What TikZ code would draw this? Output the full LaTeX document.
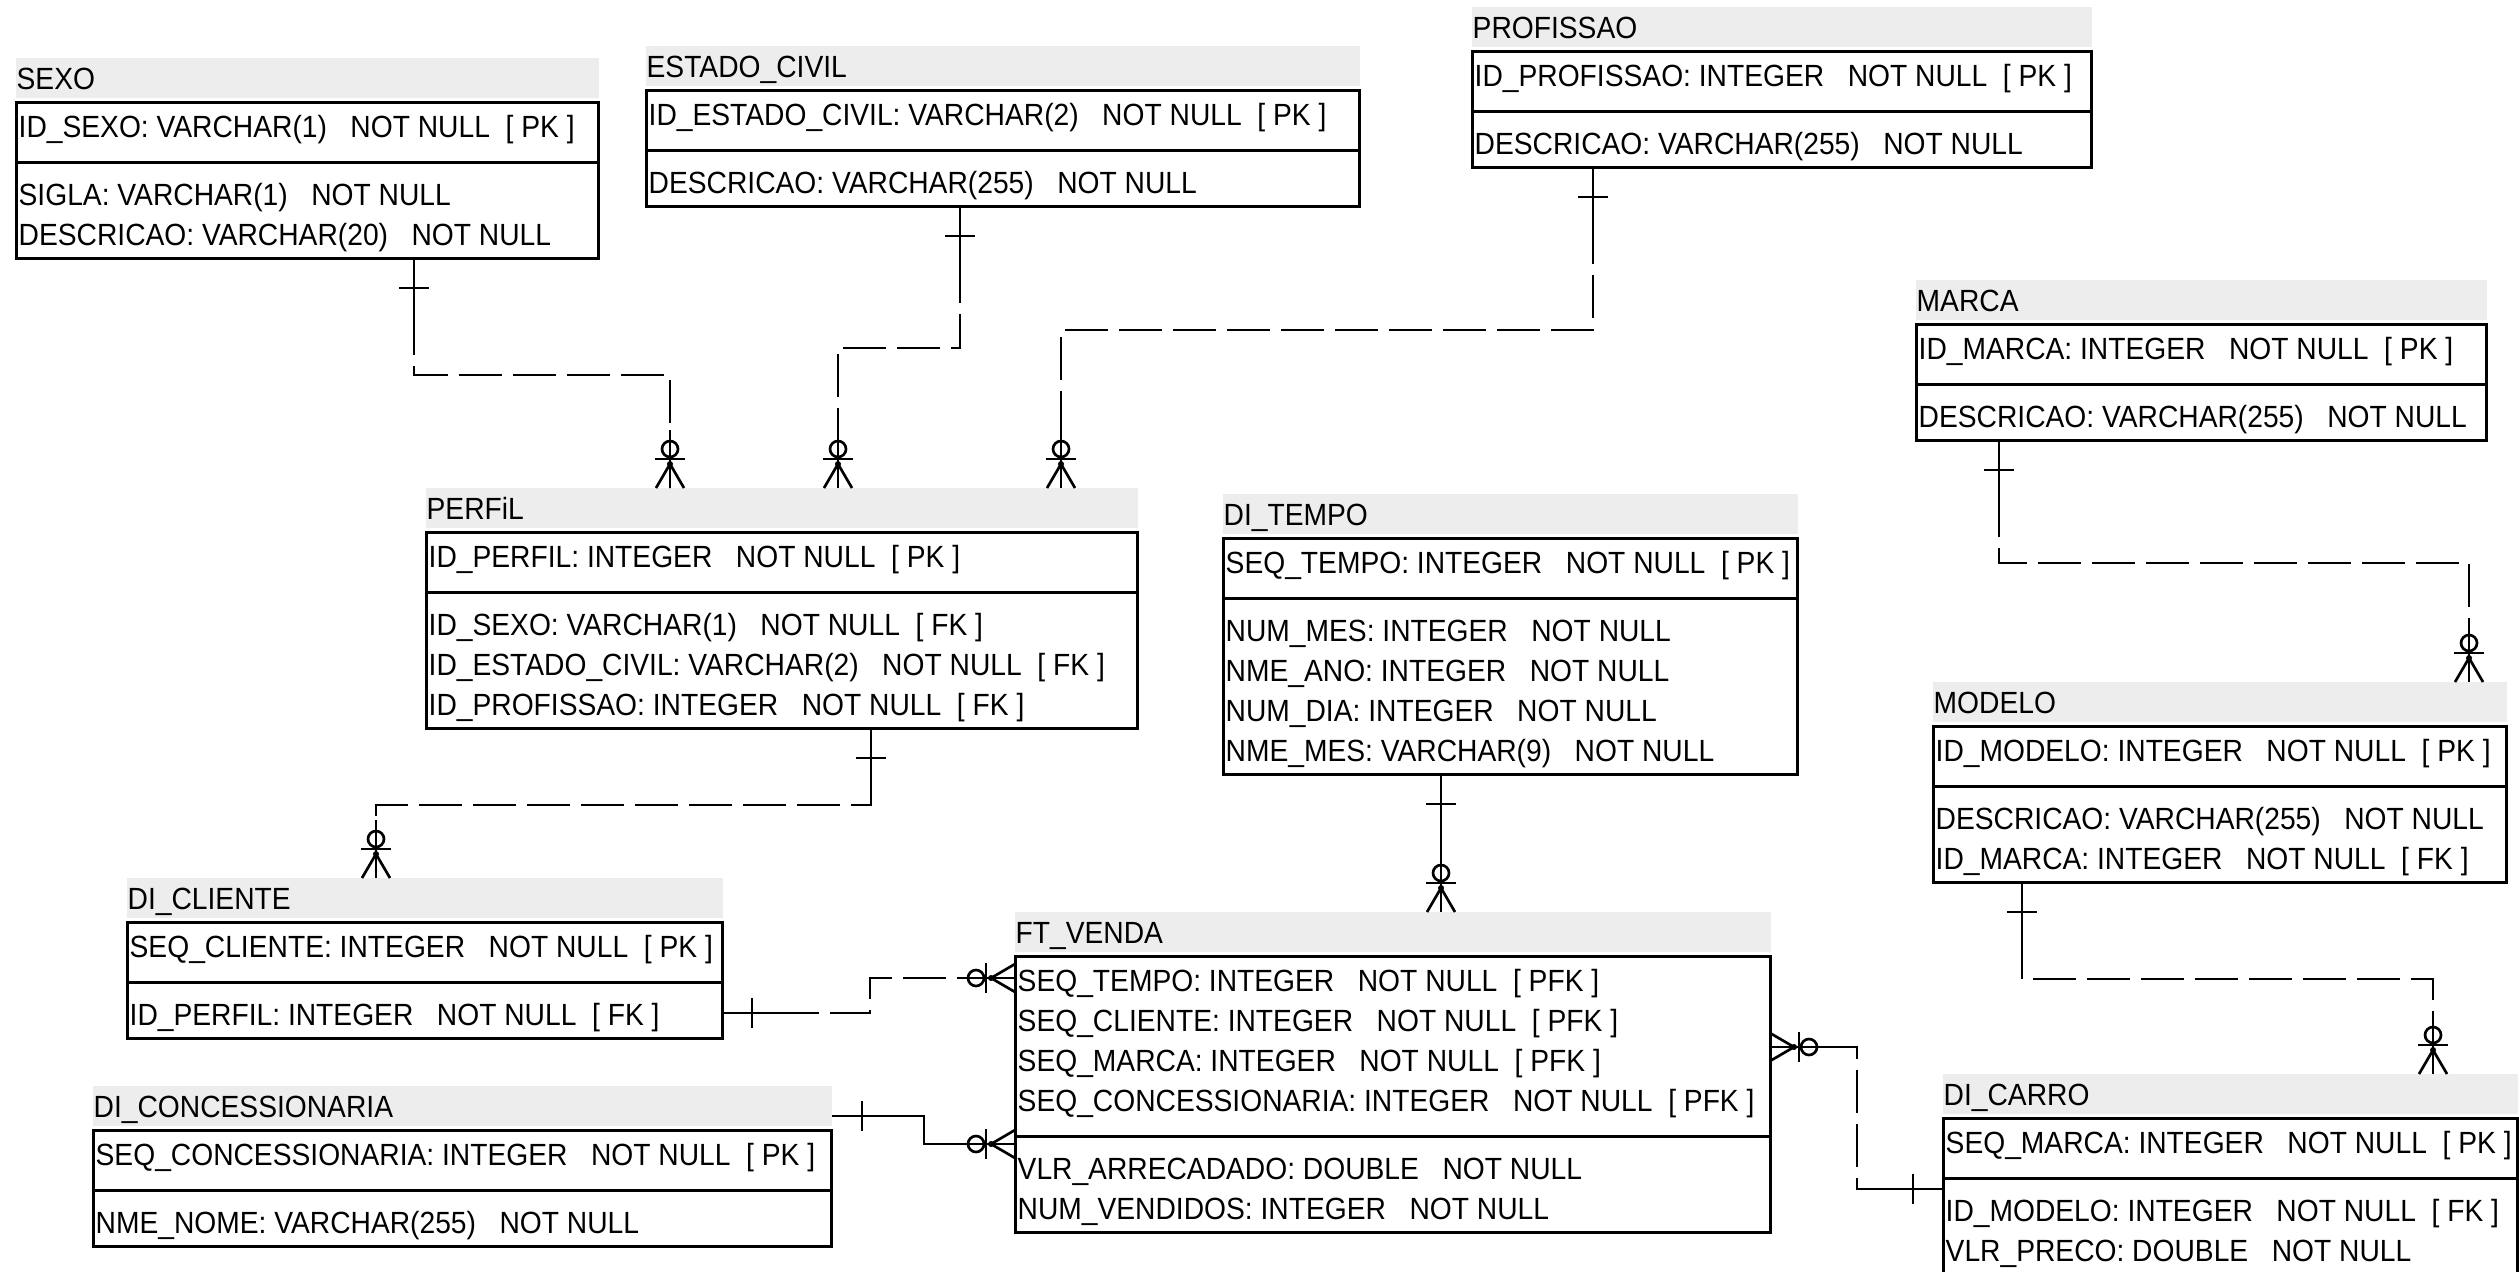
\documentclass[tikz,border=0pt]{standalone}
\usepackage{fontspec}
\setmainfont[FakeStretch=0.92]{Liberation Sans}
\usepackage{xcolor}
\usetikzlibrary{calc}

\definecolor{hdrgray}{HTML}{EDEDED}
\newcommand{\notnull}{~~~NOT NULL}
\newcommand{\pkey}{~~[ PK ]}
\newcommand{\fkey}{~~[ FK ]}
\newcommand{\pfkey}{~~[ PFK ]}
\newcommand{\pxu}{0.3pt}

\newcommand{\ertable}[9]{%
  \node[hdr, minimum width={(#4+1)*\pxu}] (#1-h) at ({#2},{#3}) {};
  \node[fld] at ({#2},{#3+31}) {#5};
  \node[tbl, minimum width={#4*\pxu}, minimum height={(40*(#6+#7)+36)*\pxu}] (#1) at ({#2},{#3+44}) {};
  \draw[box] ({#2},{#3+64+40*#6}) -- ++(#4,0);
  \foreach \ftxt [count=\idx from 0] in {#8}
    \node[fld] at ({#2+2},{#3+79+40*\idx}) {\ftxt};
  \foreach \ftxt [count=\idx from 0] in {#9}
    \node[fld] at ({#2+2},{#3+107+40*#6+40*\idx}) {\ftxt};
}

\begin{document}
\begin{tikzpicture}[x=0.3pt, y=-0.3pt, font=\fontsize{9.2}{11}\selectfont,
    hdr/.style={fill=hdrgray, anchor=north west, inner sep=0pt, outer sep=0pt, minimum height=12pt},
    tbl/.style={draw, line width=0.9pt, anchor=north west, inner sep=0pt, outer sep=0pt},
    box/.style={line width=0.9pt},
    fld/.style={anchor=base west, inner sep=0pt},
    con/.style={line width=0.8pt},
    rel/.style={con, dash pattern=on 12.9pt off 3.3pt},
    barend/.pic={\draw[con] (-30,-15) -- (-30,15);},
    crowend/.pic={
        \draw[con] (0,-14) -- (-24,0) -- (0,14);
        \fill (-24,0) circle (3);
        \draw[con] (-29,-15) -- (-29,15);
        \draw[con] (-39,0) circle (8);}]
    \useasboundingbox (0,0) rectangle (2519,1271);
    \clip (0,0) rectangle (2519,1271);

    \ertable{sexo}{16}{58}{582}{SEXO}{1}{2}{ID\_SEXO: VARCHAR(1)\notnull\pkey}{SIGLA: VARCHAR(1)\notnull, DESCRICAO: VARCHAR(20)\notnull}
    \ertable{estado}{646}{46}{713}{ESTADO\_CIVIL}{1}{1}{ID\_ESTADO\_CIVIL: VARCHAR(2)\notnull\pkey}{DESCRICAO: VARCHAR(255)\notnull}
    \ertable{profissao}{1472}{7}{619}{PROFISSAO}{1}{1}{ID\_PROFISSAO: INTEGER\notnull\pkey}{DESCRICAO: VARCHAR(255)\notnull}
    \ertable{marca}{1916}{280}{570}{MARCA}{1}{1}{ID\_MARCA: INTEGER\notnull\pkey}{DESCRICAO: VARCHAR(255)\notnull}
    \ertable{perfil}{426}{488}{711}{PERFiL}{1}{3}{ID\_PERFIL: INTEGER\notnull\pkey}{ID\_SEXO: VARCHAR(1)\notnull\fkey, ID\_ESTADO\_CIVIL: VARCHAR(2)\notnull\fkey, ID\_PROFISSAO: INTEGER\notnull\fkey}
    \ertable{tempo}{1223}{494}{574}{DI\_TEMPO}{1}{4}{SEQ\_TEMPO: INTEGER\notnull\pkey}{NUM\_MES: INTEGER\notnull, NME\_ANO: INTEGER\notnull, NUM\_DIA: INTEGER\notnull, NME\_MES: VARCHAR(9)\notnull}
    \ertable{modelo}{1933}{682}{573}{MODELO}{1}{2}{ID\_MODELO: INTEGER\notnull\pkey}{DESCRICAO: VARCHAR(255)\notnull, ID\_MARCA: INTEGER\notnull\fkey}
    \ertable{cliente}{127}{878}{595}{DI\_CLIENTE}{1}{1}{SEQ\_CLIENTE: INTEGER\notnull\pkey}{ID\_PERFIL: INTEGER\notnull\fkey}
    \ertable{conc}{93}{1086}{738}{DI\_CONCESSIONARIA}{1}{1}{SEQ\_CONCESSIONARIA: INTEGER\notnull\pkey}{NME\_NOME: VARCHAR(255)\notnull}
    \ertable{venda}{1015}{912}{755}{FT\_VENDA}{4}{2}{SEQ\_TEMPO: INTEGER\notnull\pfkey, SEQ\_CLIENTE: INTEGER\notnull\pfkey, SEQ\_MARCA: INTEGER\notnull\pfkey, SEQ\_CONCESSIONARIA: INTEGER\notnull\pfkey}{VLR\_ARRECADADO: DOUBLE\notnull, NUM\_VENDIDOS: INTEGER\notnull}
    \ertable{carro}{1943}{1074}{574}{DI\_CARRO}{1}{2}{SEQ\_MARCA: INTEGER\notnull\pkey}{ID\_MODELO: INTEGER\notnull\fkey, VLR\_PRECO: DOUBLE\notnull}

    \draw[rel] (414,0 |- sexo.south) |- (670,375) -- (670,0 |- perfil-h.north);
    \draw[con] (414,0 |- sexo.south) -- ++(0,97);
    \draw[con] (670,0 |- perfil-h.north) -- ++(0,-58);
    \pic[rotate=90] at (414,0 |- sexo.south) {barend};
    \pic[rotate=-90] at (670,0 |- perfil-h.north) {crowend};

    \draw[rel] (960,0 |- estado.south) |- (838,348) -- (838,0 |- perfil-h.north);
    \draw[con] (960,0 |- estado.south) -- ++(0,97);
    \draw[con] (838,0 |- perfil-h.north) -- ++(0,-58);
    \pic[rotate=90] at (960,0 |- estado.south) {barend};
    \pic[rotate=-90] at (838,0 |- perfil-h.north) {crowend};

    \draw[rel] (1593,0 |- profissao.south) |- (1061,330) -- (1061,0 |- perfil-h.north);
    \draw[con] (1593,0 |- profissao.south) -- ++(0,97);
    \draw[con] (1061,0 |- perfil-h.north) -- ++(0,-58);
    \pic[rotate=90] at (1593,0 |- profissao.south) {barend};
    \pic[rotate=-90] at (1061,0 |- perfil-h.north) {crowend};

    \draw[rel] (1999,0 |- marca.south) |- (2469,563) -- (2469,0 |- modelo-h.north);
    \draw[con] (1999,0 |- marca.south) -- ++(0,97);
    \draw[con] (2469,0 |- modelo-h.north) -- ++(0,-58);
    \pic[rotate=90] at (1999,0 |- marca.south) {barend};
    \pic[rotate=-90] at (2469,0 |- modelo-h.north) {crowend};

    \draw[rel] (2022,0 |- modelo.south) |- (2433,979) -- (2433,0 |- carro-h.north);
    \draw[con] (2022,0 |- modelo.south) -- ++(0,97);
    \draw[con] (2433,0 |- carro-h.north) -- ++(0,-58);
    \pic[rotate=90] at (2022,0 |- modelo.south) {barend};
    \pic[rotate=-90] at (2433,0 |- carro-h.north) {crowend};

    \draw[rel] (871,0 |- perfil.south) |- (376,805) -- (376,0 |- cliente-h.north);
    \draw[con] (871,0 |- perfil.south) -- ++(0,77);
    \draw[con] (376,0 |- cliente-h.north) -- ++(0,-58);
    \pic[rotate=90] at (871,0 |- perfil.south) {barend};
    \pic[rotate=-90] at (376,0 |- cliente-h.north) {crowend};

    \draw[con] (1441,0 |- tempo.south) -- (1441,0 |- venda-h.north);
    \pic[rotate=90] at (1441,0 |- tempo.south) {barend};
    \pic[rotate=-90] at (1441,0 |- venda-h.north) {crowend};

    \draw[rel] (cliente.east |- 0,1013) -| (870,978) -- (venda.west |- 0,978);
    \draw[con] (cliente.east |- 0,1013) -- ++(96,0);
    \draw[con] (venda.west |- 0,978) -- ++(-58,0);
    \pic[rotate=180] at (cliente.east |- 0,1013) {barend};
    \pic at (venda.west |- 0,978) {crowend};

    \draw[con] (conc-h.east |- 0,1116) -| (924,1144) -- (venda.west |- 0,1144);
    \pic[rotate=180] at (conc-h.east |- 0,1116) {barend};
    \pic at (venda.west |- 0,1144) {crowend};

    \draw[rel] (carro.west |- 0,1189) -| (1857,1047) -- (venda.east |- 0,1047);
    \draw[con] (carro.west |- 0,1189) -- ++(-86,0);
    \draw[con] (venda.east |- 0,1047) -- ++(88,0);
    \pic at (carro.west |- 0,1189) {barend};
    \pic[rotate=180] at (venda.east |- 0,1047) {crowend};
\end{tikzpicture}
\end{document}
